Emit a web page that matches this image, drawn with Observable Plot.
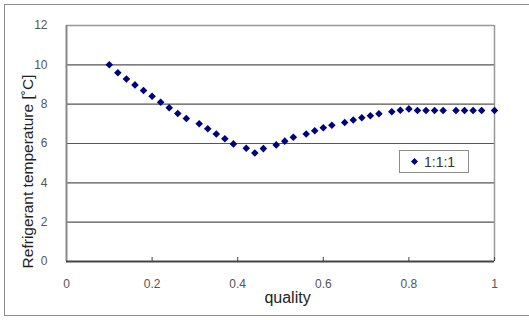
<!DOCTYPE html>
<html><head><meta charset="utf-8">
<script src="https://cdn.jsdelivr.net/npm/d3@7"></script>
<script src="https://cdn.jsdelivr.net/npm/@observablehq/plot@0.6"></script>
<style>
html,body{margin:0;padding:0;background:#fff;}
#wrap{position:relative;width:529px;height:320px;overflow:hidden;font-family:"Liberation Sans",Arial,sans-serif;}
#border{position:absolute;left:4px;top:4px;width:540px;height:312px;border:1.5px solid #8a8a8a;box-sizing:border-box;}
#legend{position:absolute;left:399px;top:150px;width:70px;height:23px;border:1.5px solid #8c8c8c;box-sizing:border-box;background:#fff;display:flex;align-items:center;font-size:14px;color:#333;}
#legend .mk{display:inline-block;width:5px;height:5px;background:#00007f;transform:rotate(45deg);margin-left:12px;margin-right:7px;}
</style></head>
<body><div id="wrap"><div id="border"></div><div id="chart"></div><div id="legend"><span class="mk"></span><span>1:1:1</span></div></div>
<script>
const quality = [0.10,0.12,0.14,0.16,0.18,0.20,0.22,0.24,0.26,0.28,0.31,0.33,0.35,0.37,0.39,0.42,0.44,0.46,0.49,0.51,0.53,0.56,0.58,0.60,0.62,0.65,0.67,0.69,0.71,0.73,0.76,0.78,0.80,0.82,0.84,0.86,0.88,0.91,0.93,0.95,0.97,1.00];
const temperature = [10.0,9.6,9.28,8.98,8.7,8.4,8.1,7.82,7.53,7.27,7.0,6.75,6.48,6.24,5.98,5.76,5.52,5.74,5.93,6.12,6.32,6.48,6.65,6.8,6.93,7.07,7.19,7.31,7.41,7.51,7.61,7.69,7.76,7.68,7.68,7.68,7.68,7.68,7.68,7.68,7.68,7.68];
const xTicks = [0,0.2,0.4,0.6,0.8,1];
const xTickLabels = ["0","0.2","0.4","0.6","0.8","1"];
const yTicks = [0,2,4,6,8,10,12];
const seriesName = "1:1:1";
const xTitle = "quality";
const yTitle = "Refrigerant temperature [˚C]";

const data = quality.map((q,i)=>({q, t: temperature[i]}));

const chart = Plot.plot({
  width: 529, height: 320,
  marginLeft: 66, marginRight: 35, marginTop: 25, marginBottom: 59,
  style: {fontFamily: '"Liberation Sans", Arial, sans-serif', background: "transparent", overflow: "visible"},
  x: {domain: [0,1]},
  y: {domain: [0,12]},
  marks: [
    Plot.ruleY(yTicks.filter(v=>v>0 && v<12), {stroke: "#555", strokeWidth: 1.2}),
    Plot.ruleY([12], {stroke: "#999", strokeWidth: 1.5}),
    Plot.ruleX([1], {stroke: "#999", strokeWidth: 1.5}),
    Plot.axisX(xTicks, {tickSize: -4, stroke: "#444", text: null, label: null}),
    Plot.axisX(xTicks, {tickSize: 0, tickPadding: 18, tickFormat: (d)=>xTickLabels[xTicks.indexOf(d)], fontSize: 12, fill: "#555", label: null}),
    Plot.axisY(yTicks, {tickSize: 0, tickPadding: 19, fontSize: 12, fill: "#555", label: null}),
    Plot.text([xTitle], {frameAnchor: "bottom", textAnchor: "middle", dy: 41, dx: 7, fontSize: 16, fill: "#222"}),
    Plot.text([yTitle], {frameAnchor: "left", textAnchor: "middle", dx: -38, dy: 28, rotate: -90, fontSize: 15.5, fill: "#222"}),
    Plot.ruleX([0], {stroke: "#888", strokeWidth: 2}),
    Plot.ruleY([0], {stroke: "#444", strokeWidth: 2}),
    Plot.dot(data, {x: "q", y: "t", symbol: "diamond2", r: 3.4, fill: "#00007f", stroke: "none"})
  ]
});
document.getElementById("chart").appendChild(chart);
</script></body></html>
